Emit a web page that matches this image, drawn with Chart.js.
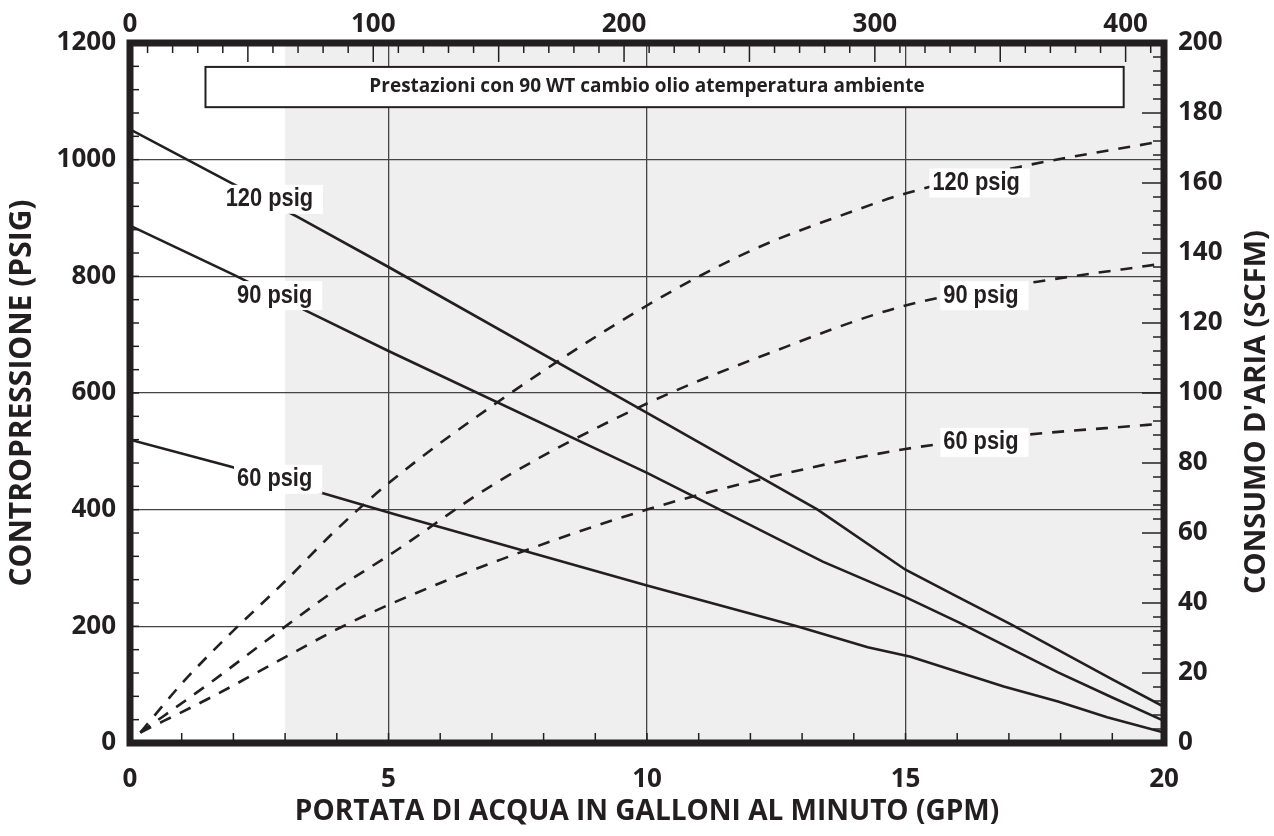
<!DOCTYPE html>
<html>
<head>
<meta charset="utf-8">
<script src="https://cdn.jsdelivr.net/npm/chart.js@4.4.1/dist/chart.umd.min.js"></script>
<style>
  html, body { margin: 0; padding: 0; background: #fff; }
  #wrap { width: 1274px; height: 836px; }
</style>
</head>
<body>
<div id="wrap"><canvas id="chart" width="1274" height="836"></canvas></div>
<script>
// back pressure (psig, left axis) vs water flow (GPM) - solid lines
const gpmBack120 = [0, 2, 3.24, 5, 10, 13.3, 15, 16, 17.05, 19, 20];
const back120    = [1052, 958, 902, 816, 566, 400, 297, 251, 203, 109, 62];
const gpmBack90  = [0, 2, 3.43, 5, 10, 13.4, 15, 16.05, 17.95, 19, 20];
const back90     = [887, 803, 740, 672, 463, 311, 250, 206, 121, 78, 38];
const gpmBack60  = [0, 1.94, 3.7, 5.17, 10, 12.9, 14.27, 15.1, 16.9, 17.95, 18.9, 20];
const back60     = [520, 474, 429, 391, 270, 200, 164, 148, 97, 71, 44, 18];

// air consumption (SCFM, right axis) - dashed lines
const gpmAir120 = [0.2, 1.02, 1.89, 3, 3.96, 5.04, 7.17, 10, 12.06, 13.94, 15, 17.2, 19.68, 20];
const air120    = [3, 17.3, 30.5, 46.2, 60.5, 74.7, 98, 125, 141, 151.7, 157, 164.6, 171.2, 172];
const gpmAir90  = [0.2, 1.56, 2.85, 4.07, 5.1, 7.1, 10, 12.3, 15, 17.55, 20];
const air90     = [3, 17.3, 31.6, 44.7, 54.5, 74.5, 97, 111, 125, 131.8, 137];
const gpmAir60  = [0.2, 1.56, 2.85, 4.07, 5.1, 7.17, 10, 12.33, 15, 17.36, 19.68, 20];
const air60     = [3, 13, 23.3, 33, 40.1, 52.4, 66.7, 75.8, 84, 88.1, 90.9, 91.3];

const topTickLabels = [0, 100, 200, 300, 400];
const shadeFrom = 3; // GPM where the grey band starts

const boxTitle = "Prestazioni con 90 WT cambio olio atemperatura ambiente";

// curve labels: text left edge (GPM) and vertical centre on the given axis
const curveLabels = [
  { text: "120 psig", axis: "y",  x: 1.85,  y: 932 },
  { text: "90 psig",  axis: "y",  x: 2.07,  y: 767 },
  { text: "60 psig",  axis: "y",  x: 2.07,  y: 452 },
  { text: "120 psig", axis: "y2", x: 15.52, y: 160 },
  { text: "90 psig",  axis: "y2", x: 15.73, y: 127.8 },
  { text: "60 psig",  axis: "y2", x: 15.73, y: 85.9 }
];

const ink = "#231f20";
const gridInk = "#444";
const tickFont = { family: "'Open Sans', sans-serif", size: 26, weight: "bold" };
const titleFont = { family: "'Open Sans', sans-serif", size: 28, weight: "bold" };

function pts(xs, ys) {
  return xs.map((v, i) => ({ x: v, y: ys[i] }));
}

function solid(xs, ys) {
  return { data: pts(xs, ys), yAxisID: "y", borderColor: ink, borderWidth: 2.6,
           pointRadius: 0, tension: 0, fill: false };
}
function dashed(xs, ys) {
  return { data: pts(xs, ys), yAxisID: "y2", borderColor: ink, borderWidth: 2.6,
           borderDash: [12, 10], pointRadius: 0, cubicInterpolationMode: "monotone", fill: false };
}

function hideEdge(lo, hi) {
  return c => (c.tick && (c.tick.value === lo || c.tick.value === hi)) ? "rgba(0,0,0,0)" : gridInk;
}

const decorations = {
  id: "decorations",
  beforeDraw(chart) {
    const { ctx, chartArea: a, scales: { x } } = chart;
    const x0 = x.getPixelForValue(shadeFrom);
    ctx.save();
    ctx.fillStyle = "#efefef";
    ctx.fillRect(x0, a.top, a.right - x0, a.bottom - a.top);
    ctx.restore();
  },
  afterDatasetsDraw(chart) {
    const { ctx, chartArea: a, scales } = chart;
    const { x, x2, y, y2 } = scales;
    ctx.save();

    // inward tick marks
    ctx.strokeStyle = ink;
    ctx.lineWidth = 1.5;
    const tick = (x1, y1, xe, ye) => { ctx.beginPath(); ctx.moveTo(x1, y1); ctx.lineTo(xe, ye); ctx.stroke(); };
    for (let v = 40; v < 1200; v += 40) {
      const p = y.getPixelForValue(v);
      tick(a.left, p, a.left + 9, p);
    }
    for (let v = 4; v < 200; v += 4) {
      const p = y2.getPixelForValue(v);
      tick(a.right, p, a.right - (v % 20 === 0 ? 22 : 11), p);
    }
    for (let v = 1; v < 20; v++) {
      const p = x.getPixelForValue(v);
      tick(p, a.bottom, p, a.bottom - 10);
    }
    for (let v = 10; v < x2.max; v += 10) {
      if (v <= x2.min) continue;
      const p = x2.getPixelForValue(v);
      tick(p, a.top, p, a.top + (v % 50 === 0 ? 19 : 10));
    }

    // heading box
    const bx0 = x.getPixelForValue(1.46), bx1 = x.getPixelForValue(19.22);
    const by0 = y.getPixelForValue(1159), by1 = y.getPixelForValue(1090);
    ctx.fillStyle = "#fff";
    ctx.fillRect(bx0, by0, bx1 - bx0, by1 - by0);
    ctx.lineWidth = 2;
    ctx.strokeRect(bx0, by0, bx1 - bx0, by1 - by0);
    ctx.fillStyle = ink;
    ctx.font = "bold 19px 'Open Sans', sans-serif";
    ctx.textAlign = "center";
    ctx.textBaseline = "middle";
    ctx.fillText(boxTitle, x.getPixelForValue(10), (by0 + by1) / 2);

    // curve labels on white patches
    ctx.font = "bold 26px 'Liberation Sans', Arial, sans-serif";
    ctx.textAlign = "left";
    ctx.textBaseline = "alphabetic";
    const squeeze = 0.84;
    curveLabels.forEach(l => {
      const px = x.getPixelForValue(l.x);
      const py = scales[l.axis].getPixelForValue(l.y);
      const w = ctx.measureText(l.text).width * squeeze;
      ctx.fillStyle = "#fff";
      ctx.fillRect(px - 3, py - 14.5, w + 13, 29);
      ctx.save();
      ctx.translate(px, py + 7);
      ctx.scale(squeeze, 1);
      ctx.fillStyle = ink;
      ctx.fillText(l.text, 0, 0);
      ctx.restore();
    });

    // heavy frame
    ctx.strokeStyle = ink;
    ctx.lineWidth = 7;
    ctx.lineJoin = "miter";
    ctx.strokeRect(a.left, a.top, a.right - a.left, a.bottom - a.top);

    // right axis title, reading upwards like the left one
    ctx.save();
    ctx.translate(1257, 412);
    ctx.rotate(-Math.PI / 2);
    ctx.font = "bold 29px 'Open Sans', sans-serif";
    ctx.textAlign = "center";
    ctx.textBaseline = "middle";
    ctx.fillStyle = ink;
    ctx.fillText("CONSUMO D'ARIA (SCFM)", 0, 0);
    ctx.restore();

    ctx.restore();
  }
};

new Chart(document.getElementById("chart"), {
  type: "line",
  data: {
    datasets: [
      solid(gpmBack120, back120),
      solid(gpmBack90, back90),
      solid(gpmBack60, back60),
      dashed(gpmAir120, air120),
      dashed(gpmAir90, air90),
      dashed(gpmAir60, air60)
    ]
  },
  options: {
    responsive: false,
    animation: false,
    layout: { padding: 0 },
    plugins: { legend: { display: false }, tooltip: { enabled: false } },
    scales: {
      x: {
        type: "linear", position: "bottom", min: 0, max: 20,
        afterFit: s => { s.height = 93; },
        ticks: { stepSize: 5, padding: 21, color: ink, font: tickFont, maxRotation: 0,
                 callback: v => String(v) },
        grid: { color: hideEdge(0, 20), lineWidth: 1.3, drawTicks: false },
        border: { display: false },
        title: { display: true, text: "PORTATA DI ACQUA IN GALLONI AL MINUTO (GPM)",
                 color: ink, font: titleFont, padding: { top: 0, bottom: 7 } }
      },
      x2: {
        type: "linear", position: "top", min: 3, max: 415.3,
        afterFit: s => { s.height = 43; },
        afterBuildTicks: s => { s.ticks = topTickLabels.map(v => ({ value: Math.max(v, s.min) })); },
        ticks: { padding: 3, color: ink, font: tickFont, maxRotation: 0,
                 callback: (v, i) => String(topTickLabels[i]) },
        grid: { drawOnChartArea: false, drawTicks: false },
        border: { display: false }
      },
      y: {
        type: "linear", position: "left", min: 0, max: 1200,
        afterFit: s => { s.width = 130; },
        ticks: { stepSize: 200, padding: 14, color: ink, font: tickFont, callback: v => String(v) },
        grid: { color: hideEdge(0, 1200), lineWidth: 1.3, drawTicks: false },
        border: { display: false },
        title: { display: true, text: "CONTROPRESSIONE (PSIG)", color: ink,
                 font: { family: "'Open Sans', sans-serif", size: 30, weight: "bold" },
                 padding: { top: 4, bottom: 0 } }
      },
      y2: {
        type: "linear", position: "right", min: 0, max: 200,
        afterFit: s => { s.width = 110; },
        ticks: { stepSize: 20, padding: 14, color: ink, font: tickFont, callback: v => String(v) },
        grid: { drawOnChartArea: false, drawTicks: false },
        border: { display: false }
      }
    }
  },
  plugins: [decorations]
});
</script>
</body>
</html>
